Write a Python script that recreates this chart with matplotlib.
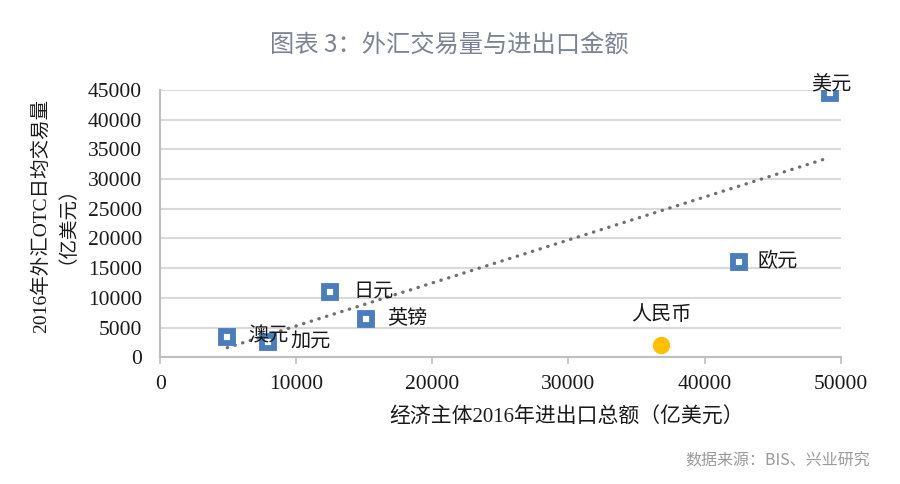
import numpy as np
import matplotlib.pyplot as plt

# Data (亿美元)
currencies = ['美元', '欧元', '日元', '英镑', '澳元', '加元']
trade_total = [49200, 42500, 12450, 15150, 4930, 7950]
otc_volume = [44500, 16000, 11000, 6400, 3400, 2550]

rmb_label = '人民币'
rmb_trade = [36800]
rmb_otc = [2050]

# label offsets (points) and alignment per currency
label_pos = {
    '美元': ((1, 6), 'center'),
    '欧元': ((14, 0), 'left'),
    '日元': ((17, 0), 'left'),
    '英镑': ((15, 0), 'left'),
    '澳元': ((15, 0), 'left'),
    '加元': ((16, 0), 'left'),
}

serif_cjk = ['Liberation Serif', 'Noto Sans CJK SC']
sans_cjk = ['Noto Sans CJK SC', 'DejaVu Sans']

def main():
    fig = plt.figure(figsize=(9, 4.84), dpi=100)
    ax = fig.add_axes([0.178, 0.262, 0.756, 0.552])

    blue = '#4a7cc0'
    grid_c = '#d9d9d9'

    # trendline fitted to the square markers
    k, b = np.polyfit(trade_total, otc_volume, 1)
    xs = np.array([min(trade_total), max(trade_total)])
    ax.plot(xs, k * xs + b, color='#707070', lw=2.4,
            linestyle=(0, (0.1, 2.3)), dash_capstyle='round', zorder=2)

    ax.plot(trade_total, otc_volume, 's', ms=8, mfc='white', mec=blue,
            mew=4.2, zorder=3)
    ax.plot(rmb_trade, rmb_otc, 'o', ms=11.5, color='#ffc000',
            mec='#ffc000', zorder=3)

    for name, x, y in zip(currencies, trade_total, otc_volume):
        off, ha = label_pos[name]
        ax.annotate(name, (x, y), xytext=off, textcoords='offset points',
                    ha=ha, va='center', fontsize=14.5, family=serif_cjk,
                    color='#1a1a1a', zorder=4)
    ax.annotate(rmb_label, (rmb_trade[0], rmb_otc[0]), xytext=(0, 21.5),
                textcoords='offset points', ha='center', va='center',
                fontsize=14.5, family=serif_cjk, color='#1a1a1a')

    ax.set_xlim(0, 50000)
    ax.set_ylim(0, 45000)
    ax.set_xticks(np.arange(0, 50001, 10000))
    ax.set_yticks(np.arange(0, 45001, 5000))
    ax.grid(axis='y', color=grid_c, lw=1.5)
    ax.set_axisbelow(True)
    for s in ['top', 'right']:
        ax.spines[s].set_visible(False)
    for s in ['left', 'bottom']:
        ax.spines[s].set_color('#bfbfbf')
        ax.spines[s].set_linewidth(1.5)
    ax.tick_params(axis='both', colors='#bfbfbf', length=5, width=1.2,
                   labelcolor='#1a1a1a', labelsize=15.5)
    ax.tick_params(axis='x', pad=8)
    ax.tick_params(axis='y', length=0, pad=13)
    for lab in ax.get_xticklabels() + ax.get_yticklabels():
        lab.set_family('Liberation Serif')

    ax.set_xlabel('经济主体2016年进出口总额（亿美元）', family=serif_cjk,
                  fontsize=15, color='#1a1a1a')
    ax.xaxis.set_label_coords(0.597, -0.19)
    ax.set_ylabel('2016年外汇OTC日均交易量\n（亿美元）', family=serif_cjk,
                  fontsize=14, color='#1a1a1a', linespacing=0.85)
    ax.yaxis.set_label_coords(-0.138, 0.53)

    fig.text(0.499, 0.908, '图表 3：外汇交易量与进出口金额', ha='center',
             va='center', fontsize=17.5, family=sans_cjk, color='#7a8494')
    fig.text(0.967, 0.047, '数据来源：BIS、兴业研究', ha='right',
             va='center', fontsize=11.5, family=sans_cjk, color='#9a9a9a')

    fig.savefig('out.png', dpi=100, facecolor='white')

if __name__ == "__main__":
    main()
